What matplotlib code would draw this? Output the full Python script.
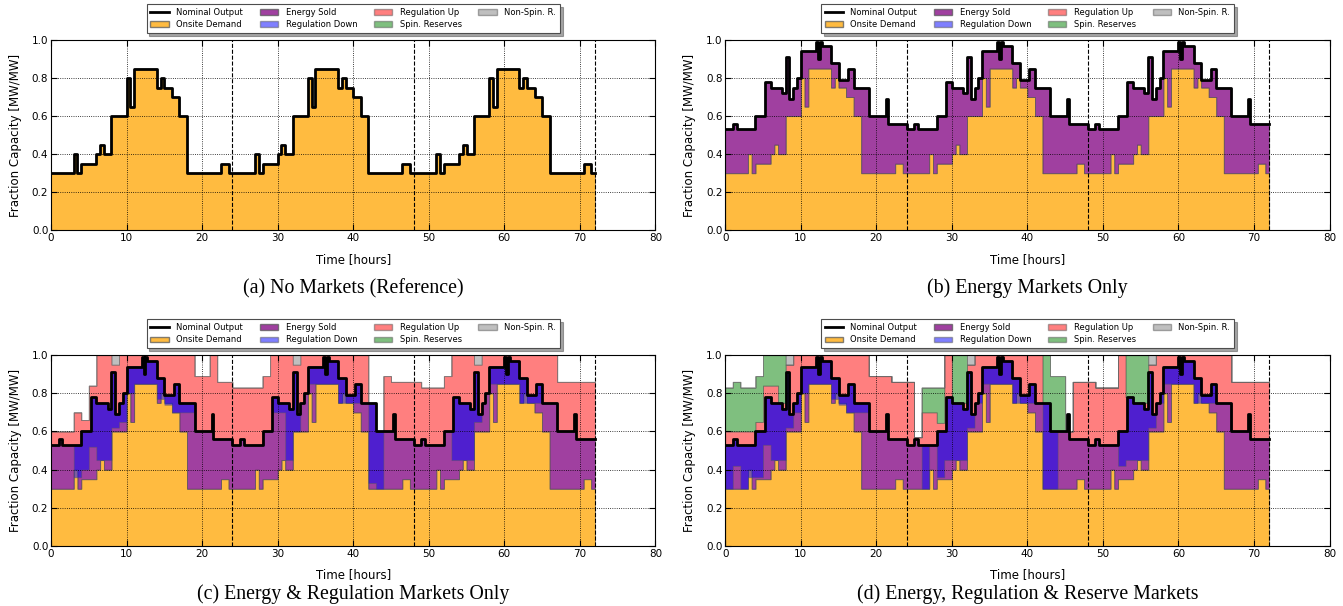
import numpy as np
import matplotlib
matplotlib.use("Agg")
import matplotlib.pyplot as plt
from matplotlib.lines import Line2D
from matplotlib.patches import Patch

#----- Daily profiles (step start time [h], value [MW/MW]) ----------------------------------

demand_day_t = [0, 3, 3.5, 4, 6, 6.5, 7, 8, 10, 10.5, 11, 14, 14.5, 15, 16, 17, 18, 22.5, 23.5]
demand_day_v = [0.30, 0.40, 0.30, 0.35, 0.40, 0.45, 0.40, 0.60, 0.80, 0.65, 0.85, 0.75, 0.80, 0.75,
                0.70, 0.60, 0.30, 0.35, 0.30]

nominal_day_t = [0, 1, 1.5, 4, 5.25, 6, 7.5, 8, 8.5, 9, 9.5, 10, 12, 12.25, 12.5, 12.75, 14, 15,
                 16.25, 17, 19, 21.25, 21.5]
nominal_day_v = [0.53, 0.56, 0.53, 0.60, 0.78, 0.75, 0.72, 0.91, 0.69, 0.75, 0.80, 0.94, 0.99, 0.90,
                 0.99, 0.97, 0.88, 0.79, 0.85, 0.75, 0.60, 0.69, 0.56]

#----- Hourly market bands (absolute band tops, hours 0..71) ----------------------------------
nan = np.nan

# (c) energy & regulation
c_regup_top = [0.60, 0.60, 0.60, 0.70, 0.66, 0.84, 1.0, 1.0, 0.95, 1.0, 1.0, 1.0, 1.0, 1.0, 1.0, 1.0, 1.0, 1.0,
               1.0, 0.89, 0.89, 1.0, 0.86, 0.86,
               0.83, 0.83, 0.83, 0.83, 0.89, 1.0, 1.0, 1.0, 0.95, 1.0, 1.0, 1.0, 1.0, 1.0, 1.0, 1.0, 1.0, 1.0,
               0.60, 0.60, 0.89, 0.86, 0.86, 0.86,
               0.86, 0.83, 0.83, 0.83, 0.89, 1.0, 1.0, 1.0, 0.95, 1.0, 1.0, 1.0, 1.0, 1.0, 1.0, 1.0, 1.0, 1.0,
               1.0, 0.86, 0.86, 0.86, 0.86, 0.86]
c_nonspin_top = [0.60, 0.60, 0.60, 0.70, 0.66, 0.84, 1.0, 1.0, 1.0, 1.0, 1.0, 1.0, 1.0, 1.0, 1.0, 1.0, 1.0, 1.0,
                 1.0, 0.89, 0.89, 1.0, 0.86, 0.86,
                 0.83, 0.83, 0.83, 0.83, 0.89, 1.0, 1.0, 1.0, 1.0, 1.0, 1.0, 1.0, 1.0, 1.0, 1.0, 1.0, 1.0, 1.0,
                 0.60, 0.60, 0.89, 0.86, 0.86, 0.86,
                 0.86, 0.83, 0.83, 0.83, 0.89, 1.0, 1.0, 1.0, 1.0, 1.0, 1.0, 1.0, 1.0, 1.0, 1.0, 1.0, 1.0, 1.0,
                 1.0, 0.86, 0.86, 0.86, 0.86, 0.86]
c_regdown_low = [nan, nan, nan, 0.36, 0.40, 0.52, 0.45, 0.45, 0.62, 0.65, 0.80, 0.85, 0.85, 0.85, 0.77, 0.74,
                 0.70, 0.70, 0.70, nan, nan, nan, nan, nan,
                 nan, nan, nan, nan, nan, 0.70, 0.70, 0.45, 0.60, 0.80, 0.85, 0.85, 0.85, 0.85, 0.75, 0.75,
                 0.75, 0.75, 0.33, 0.30, nan, nan, nan, nan,
                 nan, nan, nan, nan, nan, 0.45, 0.45, 0.45, 0.65, 0.80, 0.85, 0.85, 0.85, 0.85, 0.75, 0.75,
                 0.75, 0.75, 0.75, nan, nan, nan, nan, nan]

# (d) energy, regulation & reserves
d_regup_top = [0.60, 0.60, 0.60, 0.60, 0.65, 0.84, 0.84, 0.75, 0.95, 1.0, 1.0, 1.0, 1.0, 1.0, 1.0, 1.0, 1.0, 1.0,
               1.0, 0.89, 0.89, 0.89, 0.86, 0.86,
               0.86, 0.57, 0.70, 0.70, 0.645, 1.0, 0.75, 0.75, 0.95, 1.0, 1.0, 1.0, 1.0, 1.0, 1.0, 1.0, 1.0, 1.0,
               0.60, 0.60, 0.60, 0.60, 0.86, 0.86,
               0.86, 0.83, 0.83, 0.83, 1.0, 0.78, 0.75, 0.75, 0.95, 1.0, 1.0, 1.0, 1.0, 1.0, 1.0, 1.0, 1.0, 1.0,
               1.0, 0.86, 0.86, 0.86, 0.86, 0.86]
d_spin_top = [0.83, 0.86, 0.83, 0.83, 0.89, 1.0, 1.0, 1.0, 0.95, 1.0, 1.0, 1.0, 1.0, 1.0, 1.0, 1.0, 1.0, 1.0,
              1.0, 0.89, 0.89, 0.89, 0.86, 0.86,
              0.86, 0.57, 0.83, 0.83, 0.83, 1.0, 1.0, 1.0, 0.95, 1.0, 1.0, 1.0, 1.0, 1.0, 1.0, 1.0, 1.0, 1.0,
              1.0, 0.89, 0.89, 0.60, 0.86, 0.86,
              0.86, 0.83, 0.83, 0.83, 1.0, 1.0, 1.0, 1.0, 0.95, 1.0, 1.0, 1.0, 1.0, 1.0, 1.0, 1.0, 1.0, 1.0,
              1.0, 0.86, 0.86, 0.86, 0.86, 0.86]
d_nonspin_top = [0.83, 0.86, 0.83, 0.83, 0.89, 1.0, 1.0, 1.0, 1.0, 1.0, 1.0, 1.0, 1.0, 1.0, 1.0, 1.0, 1.0, 1.0,
                 1.0, 0.89, 0.89, 0.89, 0.86, 0.86,
                 0.86, 0.57, 0.83, 0.83, 0.83, 1.0, 1.0, 1.0, 1.0, 1.0, 1.0, 1.0, 1.0, 1.0, 1.0, 1.0, 1.0, 1.0,
                 1.0, 0.89, 0.89, 0.60, 0.86, 0.86,
                 0.86, 0.83, 0.83, 0.83, 1.0, 1.0, 1.0, 1.0, 1.0, 1.0, 1.0, 1.0, 1.0, 1.0, 1.0, 1.0, 1.0, 1.0,
                 1.0, 0.86, 0.86, 0.86, 0.86, 0.86]
d_regdown_low = [0.30, 0.42, 0.30, 0.36, 0.36, 0.53, 0.45, 0.45, 0.62, 0.70, 0.80, 0.85, 0.85, 0.85, 0.77, 0.74,
                 0.70, 0.70, 0.70, nan, nan, nan, nan, nan,
                 nan, nan, 0.30, nan, 0.36, 0.45, 0.45, 0.45, 0.62, 0.75, 0.85, 0.85, 0.85, 0.85, 0.75, 0.75,
                 0.75, 0.75, 0.30, 0.30, nan, nan, nan, nan,
                 nan, nan, nan, nan, 0.42, 0.45, 0.45, 0.45, 0.62, 0.75, 0.85, 0.85, 0.85, 0.85, 0.75, 0.75,
                 0.75, 0.75, 0.75, nan, nan, nan, nan, nan]

captions = ["(a) No Markets (Reference)", "(b) Energy Markets Only",
            "(c) Energy & Regulation Markets Only", "(d) Energy, Regulation & Reserve Markets"]

#----- Build time series ----------------------------------------------------------------------

n_days = 3
t = np.arange(0, 24 * n_days + 0.25, 0.25)


def repeat_days(day_t, day_v):
        times = [tt + 24 * d for d in range(n_days) for tt in day_t]
        return np.array(times), np.array(day_v * n_days)


def step_eval(times, vals):
        idx = np.searchsorted(times, t, side="right") - 1
        return vals[idx]


def hourly(vals):
        v = np.repeat(np.array(vals, dtype=float), 4)
        return np.append(v, v[-1])


demand = step_eval(*repeat_days(demand_day_t, demand_day_v))
nominal = step_eval(*repeat_days(nominal_day_t, nominal_day_v))

#----- Plot -----------------------------------------------------------------------------------

plt.rcParams["font.family"] = "DejaVu Sans"
plt.rcParams["xtick.direction"] = "in"
plt.rcParams["ytick.direction"] = "in"

C_DEM = ("orange", 0.75)
C_EN = ("purple", 0.75)
C_RD = ("blue", 0.5)
C_RU = ("red", 0.5)
C_SP = ("green", 0.5)
C_NS = ("gray", 0.5)


def band(ax, lo, hi, c):
        hi = np.maximum(hi, lo)
        ax.fill_between(t, lo, hi, step="post", color=c[0], alpha=c[1], edgecolor="0.35", linewidth=0.6)


def draw_panel(ax, kind):
        if kind == "a":
                band(ax, 0, demand, C_DEM)
                ax.step(t, demand, where="post", color="k", lw=2)
        else:
                band(ax, 0, demand, C_DEM)
                band(ax, demand, nominal, C_EN)
                if kind == "c":
                        rd = hourly(c_regdown_low)
                        rd = np.where(np.isnan(rd), nominal, np.minimum(rd, nominal))
                        band(ax, rd, nominal, C_RD)
                        ru = np.maximum(hourly(c_regup_top), nominal)
                        band(ax, nominal, ru, C_RU)
                        band(ax, ru, np.maximum(hourly(c_nonspin_top), ru), C_NS)
                if kind == "d":
                        rd = hourly(d_regdown_low)
                        rd = np.where(np.isnan(rd), nominal, np.minimum(rd, nominal))
                        band(ax, rd, nominal, C_RD)
                        ru = np.maximum(hourly(d_regup_top), nominal)
                        band(ax, nominal, ru, C_RU)
                        sp = np.maximum(hourly(d_spin_top), ru)
                        band(ax, ru, sp, C_SP)
                        band(ax, sp, np.maximum(hourly(d_nonspin_top), sp), C_NS)
                ax.step(t, nominal, where="post", color="k", lw=2)

        for day_end in [24, 48, 72]:
                ax.axvline(day_end, color="k", ls="--", lw=0.8)
        ax.grid(True, color="k", ls=":", lw=0.6)
        ax.set_axisbelow(False)
        ax.set_xlim(0, 80)
        ax.set_ylim(0, 1)
        ax.set_xticks(range(0, 81, 10))
        ax.set_yticks(np.arange(0, 1.01, 0.2))
        ax.yaxis.set_major_formatter(matplotlib.ticker.FormatStrFormatter("%.1f"))
        ax.tick_params(labelsize=7.5, top=True, right=True, length=4, pad=2)
        ax.set_xlabel("Time [hours]", fontsize=8.5, labelpad=7)
        ax.set_ylabel("Fraction Capacity [MW/MW]", fontsize=8.5, labelpad=7)

        handles = [Line2D([], [], color="k", lw=2),
                   Patch(facecolor=C_DEM[0], alpha=C_DEM[1], edgecolor="0.35"),
                   Patch(facecolor=C_EN[0], alpha=C_EN[1], edgecolor="0.35"),
                   Patch(facecolor=C_RD[0], alpha=C_RD[1], edgecolor="0.35"),
                   Patch(facecolor=C_RU[0], alpha=C_RU[1], edgecolor="0.35"),
                   Patch(facecolor=C_SP[0], alpha=C_SP[1], edgecolor="0.35"),
                   Patch(facecolor=C_NS[0], alpha=C_NS[1], edgecolor="0.35")]
        labels = ["Nominal Output", "Onsite Demand", "Energy Sold", "Regulation Down",
                  "Regulation Up", "Spin. Reserves", "Non-Spin. R."]
        leg = ax.legend(handles, labels, loc="lower center", bbox_to_anchor=(0.5, 1.015), ncol=4,
                        fontsize=6, frameon=True, fancybox=False, shadow=True, handlelength=2.2,
                        handletextpad=0.9, columnspacing=2.0, borderpad=0.45, labelspacing=0.4)
        leg.get_frame().set_edgecolor("0.3")
        leg.get_frame().set_linewidth(0.8)


fig = plt.figure(figsize=(13.43, 6.06), dpi=100)
positions = [[0.038, 0.620, 0.450, 0.314], [0.540, 0.620, 0.450, 0.314],
             [0.038, 0.099, 0.450, 0.315], [0.540, 0.099, 0.450, 0.315]]
cap_y = [0.524, 0.524, 0.019, 0.019]

for i, kind in enumerate(["a", "b", "c", "d"]):
        ax = fig.add_axes(positions[i])
        draw_panel(ax, kind)
        fig.text(positions[i][0] + positions[i][2] / 2, cap_y[i], captions[i], ha="center", va="center",
                 family="Liberation Serif", fontsize=14.3)

fig.savefig("out.png", dpi=100)
